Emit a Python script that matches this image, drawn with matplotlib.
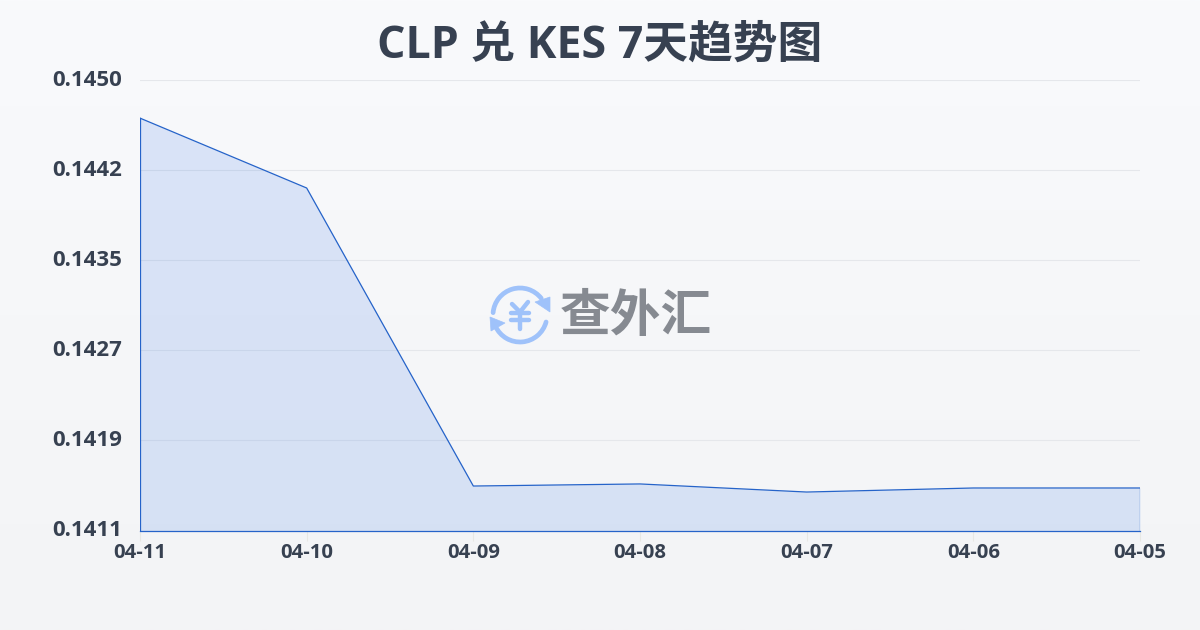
import numpy as np
import matplotlib
matplotlib.use("Agg")
import matplotlib.pyplot as plt
from matplotlib.patches import Polygon, Arc
from matplotlib.transforms import ScaledTranslation

plt.rcParams['font.family'] = ['Open Sans', 'Noto Sans CJK SC', 'DejaVu Sans']

dates = ["04-11", "04-10", "04-09", "04-08", "04-07", "04-06", "04-05"]
rates = [0.14467, 0.144065, 0.141485, 0.141503, 0.141433, 0.141468, 0.141468]
y_ticks = [0.1411, 0.14188, 0.14266, 0.14344, 0.14422, 0.1450]
y_labels = ["0.1411", "0.1419", "0.1427", "0.1435", "0.1442", "0.1450"]
title = "CLP 兑 KES 7天趋势图"
watermark = "查外汇"

TEXT = "#374151"
BLUE = "#2563c9"
FILL = "#2f6fe6"
ICON = "#9fc2fa"

fig = plt.figure(figsize=(12, 6.3), dpi=100)

# background gradient
bg = fig.add_axes([0, 0, 1, 1], zorder=0)
bg.imshow(np.linspace(0, 1, 256)[:, None],
          cmap=matplotlib.colors.LinearSegmentedColormap.from_list("bg", ["#f9fafc", "#f3f4f6"]),
          aspect="auto", extent=[0, 1, 0, 1])
bg.axis("off")

ax = fig.add_axes([140 / 1200, 1 - 530.5 / 630, 1000 / 1200, 450.5 / 630], zorder=1)
ax.patch.set_alpha(0)
x = np.arange(len(dates))
ax.fill_between(x, rates, y_ticks[0], color=FILL, alpha=0.15, lw=0, zorder=2)
ax.plot(x, rates, color=BLUE, lw=0.9, zorder=3)
ax.plot([0, 0], [y_ticks[0], rates[0]], color=BLUE, lw=0.9, zorder=3)
ax.plot([x[-1], x[-1]], [y_ticks[0], rates[-1]], color=BLUE, lw=0.9, zorder=3)
ax.plot([0, x[-1]], [y_ticks[0], y_ticks[0]], color=BLUE, lw=0.9, zorder=3, clip_on=False)

ax.set_xlim(0, len(dates) - 1)
ax.set_ylim(y_ticks[0], y_ticks[-1])
ax.set_xticks(x, dates)
ax.set_yticks(y_ticks, y_labels)
ax.grid(axis="y", color="#e5e7eb", lw=0.8, zorder=1)
ax.set_axisbelow(True)
for s in ax.spines.values():
    s.set_visible(False)
ax.tick_params(axis="x", length=7, width=0.8, color="#e8e8e4", pad=2, labelsize=14.6, labelcolor=TEXT)
ax.tick_params(axis="y", length=0, pad=13, labelsize=16, labelcolor=TEXT)
for lab in ax.get_xticklabels() + ax.get_yticklabels():
    lab.set_fontweight("bold")
shift = ScaledTranslation(0, 2.5 / 100, fig.dpi_scale_trans)
for lab in ax.get_yticklabels():
    lab.set_transform(lab.get_transform() + shift)

fig.text(599.5 / 1200, 1 - 46.5 / 630, title, ha="center", va="center",
         fontsize=32.2, fontweight="bold", color=TEXT)

# watermark overlay in pixel coordinates
ov = fig.add_axes([0, 0, 1, 1], zorder=5)
ov.set_xlim(0, 1200)
ov.set_ylim(630, 0)
ov.axis("off")
ov.text(636, 317, watermark, ha="center", va="center", fontsize=36.5,
        fontweight="bold", color="#868a91", family=['Noto Sans CJK SC'])
cx, cy, r = 520, 315, 27
ov.add_patch(Arc((cx, cy), 2 * r, 2 * r, theta1=185, theta2=322, color=ICON, lw=3.4, capstyle="round"))
ov.add_patch(Arc((cx, cy), 2 * r, 2 * r, theta1=15, theta2=155, color=ICON, lw=3.4, capstyle="round"))
ov.add_patch(Polygon([(535, 302), (550, 297), (550, 312)], closed=True, fc=ICON, ec=ICON, lw=0.5))
ov.add_patch(Polygon([(490, 317), (505, 323), (491, 331)], closed=True, fc=ICON, ec=ICON, lw=0.5))
for (x0, y0, x1, y1) in [(512, 304, 520, 312), (528, 302, 520, 312), (520, 312, 520, 329),
                         (511, 313, 529, 313), (511, 320, 529, 320)]:
    ov.plot([x0, x1], [y0, y1], color=ICON, lw=3.2, solid_capstyle="round")

fig.savefig("out.png", dpi=100)
